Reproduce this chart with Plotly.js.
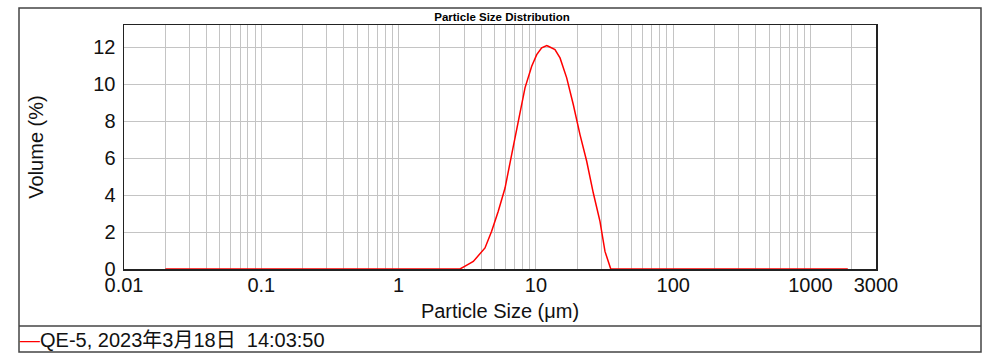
<!DOCTYPE html>
<html>
<head>
<meta charset="utf-8">
<script src="https://cdn.plot.ly/plotly-3.0.1.min.js"></script>
<style>html,body{margin:0;padding:0;background:#fff;}#chart{width:1004px;height:355px;}</style>
</head>
<body>
<div id="chart"></div>
<script>
// ---- data ----
const seriesName = "QE-5, 2023年3月18日  14:03:50";
const particleSize = [0.02, 2.80, 3.05, 3.50, 4.26, 4.76, 5.32, 5.96, 6.66, 7.44, 8.33, 9.32, 10.14, 11.02, 11.99, 12.31, 13.77, 14.99, 16.76, 18.72, 20.95, 23.44, 26.19, 29.29, 31.86, 35.1, 1870];
const volumePct   = [0,    0,    0.16, 0.41, 1.14, 2.04, 3.12, 4.38, 6.19, 7.99, 9.80, 10.97, 11.60, 11.96, 12.09, 12.05, 11.87, 11.42, 10.34, 8.90, 7.27, 5.83, 4.11, 2.58, 0.95, 0, 0];

// axis ticks / gridlines
const xGridVals = [0.01,0.02,0.03,0.04,0.05,0.06,0.07,0.08,0.09,
                   0.1,0.2,0.3,0.4,0.5,0.6,0.7,0.8,0.9,
                   1,2,3,4,5,6,7,8,9,
                   10,20,30,40,50,60,70,80,90,
                   100,200,300,400,500,600,700,800,900,
                   1000,2000,3000];
const xLabelVals = [0.01, 0.1, 1, 10, 100, 1000, 3000];
const xLabelText = ["0.01", "0.1", "1", "10", "100", "1000", "3000"];
const yTickVals = [0, 2, 4, 6, 8, 10, 12];

const xTickText = xGridVals.map(v => {
  const i = xLabelVals.indexOf(v);
  return i >= 0 ? xLabelText[i] : "";
});

const FONT = "Liberation Sans, Arial, 'Noto Sans CJK SC', sans-serif";
const L = 124, R = 128, T = 25, B = 86;
const W = 1004 - L - R, H = 355 - T - B;
const px = x => (x - L) / W;
const py = y => (355 - B - y) / H;

const trace = {
  x: particleSize,
  y: volumePct,
  type: "scatter",
  mode: "lines",
  name: seriesName,
  line: {color: "#ff0000", width: 1.5},
  hoverinfo: "x+y",
  showlegend: false
};

const layout = {
  width: 1004, height: 355,
  margin: {l: L, r: R, t: T, b: B, pad: 0},
  paper_bgcolor: "#ffffff",
  plot_bgcolor: "#ffffff",
  font: {family: FONT, size: 20, color: "#111"},
  title: {
    text: "Particle Size Distribution",
    font: {family: FONT, size: 11.5, weight: "bold", color: "#000"},
    x: 0.5, xref: "container", xanchor: "center",
    y: 1 - 16.7 / 355, yref: "container", yanchor: "middle"
  },
  xaxis: {
    type: "log",
    range: [Math.log10(0.01), Math.log10(3000)],
    tickmode: "array",
    tickvals: xGridVals,
    ticktext: xTickText,
    ticks: "",
    showgrid: true,
    gridcolor: "#c4c4c4",
    gridwidth: 1,
    showline: true, linecolor: "#222", linewidth: 1.5, mirror: true,
    zeroline: false,
    layer: "below traces",
    tickfont: {family: FONT, size: 20, color: "#111"},
    ticklabelstandoff: -3,
    title: {text: "Particle Size (μm)", font: {family: FONT, size: 20, color: "#111"}, standoff: 9}
  },
  yaxis: {
    range: [0, 13.2],
    tickmode: "array",
    tickvals: yTickVals,
    ticktext: yTickVals.map(String),
    ticks: "",
    showgrid: true,
    gridcolor: "#c4c4c4",
    gridwidth: 1,
    showline: true, linecolor: "#222", linewidth: 1.5, mirror: true,
    zeroline: false,
    layer: "below traces",
    tickfont: {family: FONT, size: 20, color: "#111"},
    ticklabelstandoff: 3,
    title: {text: "Volume (%)", font: {family: FONT, size: 20, color: "#111"}, standoff: 44}
  },
  shapes: [
    {type: "rect", xref: "paper", yref: "paper", x0: px(19), x1: px(981), y0: py(352), y1: py(8),
     line: {color: "#444", width: 1.5}, fillcolor: "rgba(0,0,0,0)", layer: "above"},
    {type: "line", xref: "paper", yref: "paper", x0: px(19), x1: px(981), y0: py(326), y1: py(326),
     line: {color: "#444", width: 1.5}}
  ],
  annotations: [
    {xref: "paper", yref: "paper", x: px(19), y: py(340), xanchor: "left", yanchor: "middle",
     showarrow: false, borderpad: 0,
     text: '<span style="color:#ff0000">—</span>' + seriesName,
     font: {family: FONT, size: 20, color: "#111"}}
  ]
};

Plotly.newPlot("chart", [trace], layout, {displayModeBar: false, staticPlot: true});
</script>
</body>
</html>
